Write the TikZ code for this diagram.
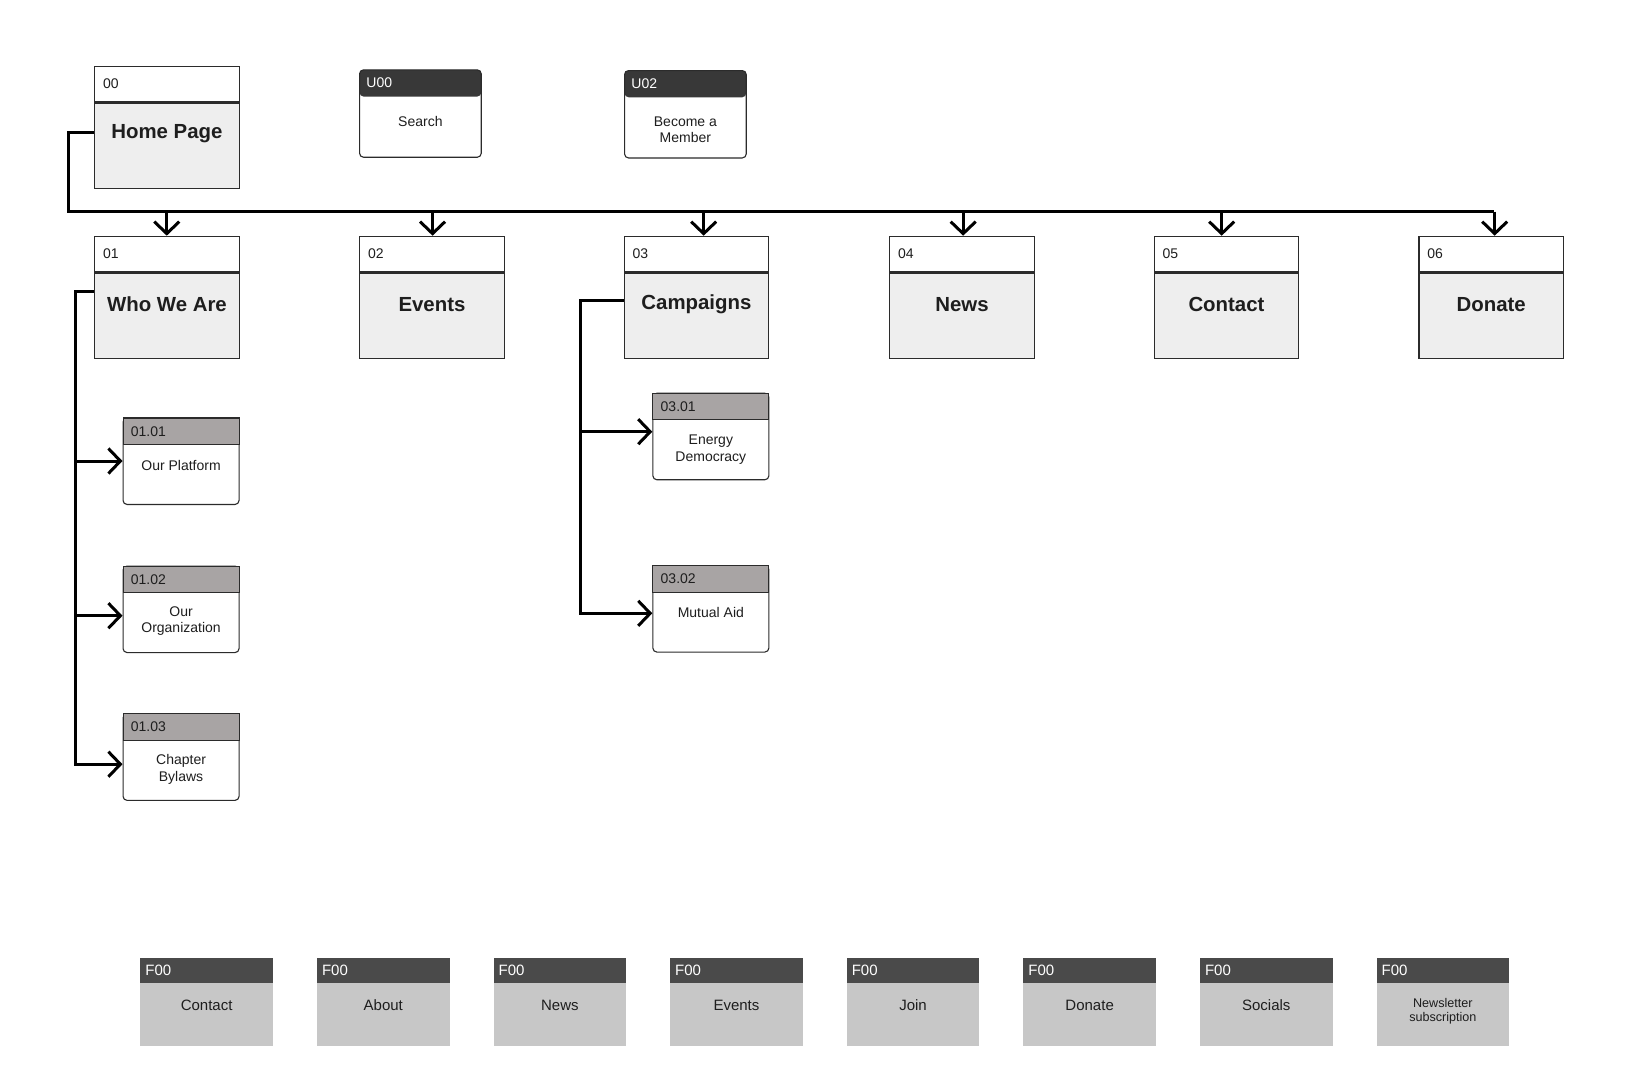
\documentclass[tikz,border=0pt]{standalone}
\usepackage{fontspec}
\setmainfont{Liberation Sans}
\usetikzlibrary{arrows.meta,calc}
\definecolor{bord}{HTML}{2B2B2B}
\definecolor{lbodyc}{HTML}{EEEEEE}
\definecolor{udark}{HTML}{383838}
\definecolor{sgray}{HTML}{A8A4A4}
\definecolor{fdark}{HTML}{4A4A4A}
\definecolor{fbody}{HTML}{C7C7C7}
\definecolor{ink}{HTML}{1E1E1E}
\tikzset{
  lhead/.style={draw=bord, line width=0.7pt, fill=white, minimum width=72.25pt, minimum height=17.5pt, inner sep=0, anchor=north west},
  lbodyst/.style={draw=bord, line width=0.7pt, fill=lbodyc, minimum width=72.25pt, minimum height=42.75pt, inner sep=0, anchor=north west},
  idlabel/.style={font=\fontsize{7}{8}\selectfont, text=ink, inner sep=0, anchor=west},
  wlabel/.style={font=\fontsize{7}{8}\selectfont, text=white, inner sep=0, anchor=west},
  flabel/.style={font=\fontsize{7.5}{8}\selectfont, text=white, inner sep=0, anchor=west},
  titlest/.style={font=\fontsize{10.2}{12}\selectfont\bfseries, text=ink, inner sep=0},
  uboxst/.style={draw=bord, line width=0.55pt, fill=white, rounded corners=2pt, minimum width=60.85pt, minimum height=43.7pt, inner sep=0, anchor=north west,
    path picture={\fill[udark] (path picture bounding box.north west) rectangle ([yshift=-13.35pt]path picture bounding box.north east);}},
  sbody/.style={draw=bord, line width=0.55pt, fill=white, rounded corners=2pt, minimum width=58pt, minimum height=43.25pt, inner sep=0, anchor=north west},
  shead/.style={draw=bord, line width=0.55pt, fill=sgray, minimum width=58pt, minimum height=13.25pt, inner sep=0, anchor=north west},
  ftbody/.style={fill=fbody, minimum width=66.25pt, minimum height=44pt, inner sep=0, anchor=north west},
  fthead/.style={fill=fdark, minimum width=66.25pt, minimum height=12.5pt, inner sep=0, anchor=north west},
  smalltxt/.style={font=\fontsize{7}{8.3}\selectfont, text=ink, align=center, inner sep=0},
  foottxt/.style={font=\fontsize{7.5}{8.3}\selectfont, text=ink, align=center, inner sep=0},
  tinytxt/.style={font=\fontsize{6.3}{7.3}\selectfont, text=ink, align=center, inner sep=0},
  conn/.style={line width=1.5pt, draw=black},
  arr/.style={conn, -{Straight Barb[length=6pt,width=12.5pt]}},
}
\newcommand\levelbox[5]{%
  \node[lhead] (#1h) at (#2,#3) {};
  \node[lbodyst] (#1) at (#1h.south west) {};
  \node[idlabel] (#1id) at ([xshift=4.3pt]#1h.west) {#4};
  \node[titlest] (#1t) at ([yshift=-16pt]#1.north) {#5};
}
\newcommand\utilbox[6]{%
  \node[uboxst] (#1) at (#2,#3) {};
  \node[wlabel] (#1id) at ([xshift=3.5pt,yshift=-6.7pt]#1.north west) {#4};
  \node[smalltxt] (#1t) at ([yshift=#6]#1.north) {#5};
}
\newcommand\subbox[6]{%
  \node[sbody] (#1) at (#2,#3) {};
  \node[shead] (#1h) at (#1.north west) {};
  \node[idlabel] (#1id) at ([xshift=4pt]#1h.west) {#4};
  \node[smalltxt] (#1t) at ([yshift=#6]#1.north) {#5};
}
\newcommand\footbox[5]{%
  \node[ftbody] (#1) at (#2,957.3) {};
  \node[fthead] (#1h) at (#1.north west) {};
  \node[flabel] (#1id) at ([xshift=2.5pt]#1h.west) {F00};
  \node[#5] (#1t) at ([yshift=#4]#1.north) {#3};
}
\begin{document}
\begin{tikzpicture}[x=0.5pt,y=-0.5pt]
\fill[white] (0,0) rectangle (1626,1088);
\useasboundingbox (0,0) rectangle (1626,1088);

% top level
\levelbox{home}{94}{65.7}{00}{Home Page}
\utilbox{u00}{359}{69.3}{U00}{Search}{-26.1pt}
\utilbox{u02}{624}{70}{U02}{Become a\\Member}{-29.9pt}

% level 1
\levelbox{n01}{94}{235.7}{01}{Who We Are}
\levelbox{n02}{359}{235.7}{02}{Events}
\levelbox{n03}{623.5}{235.7}{03}{Campaigns}
\levelbox{n04}{889}{235.7}{04}{News}
\levelbox{n05}{1153.5}{235.7}{05}{Contact}
\levelbox{n06}{1418.3}{235.7}{06}{Donate}

% sub boxes
\subbox{s0101}{122.5}{417.4}{01.01}{Our Platform}{-24pt}
\subbox{s0102}{122.5}{565.5}{01.02}{Our\\Organization}{-27.75pt}
\subbox{s0103}{122.5}{713.3}{01.03}{Chapter\\Bylaws}{-28pt}
\subbox{s0301}{652.3}{392.7}{03.01}{Energy\\Democracy}{-28.5pt}
\subbox{s0302}{652.3}{565}{03.02}{Mutual Aid}{-23.8pt}

% footer
\footbox{f1}{140}{Contact}{-23.85pt}{foottxt}
\footbox{f2}{316.6}{About}{-23.85pt}{foottxt}
\footbox{f3}{493.2}{News}{-23.85pt}{foottxt}
\footbox{f4}{669.8}{Events}{-23.85pt}{foottxt}
\footbox{f5}{846.4}{Join}{-23.85pt}{foottxt}
\footbox{f6}{1023}{Donate}{-23.85pt}{foottxt}
\footbox{f7}{1199.6}{Socials}{-23.85pt}{foottxt}
\footbox{f8}{1376.2}{Newsletter\\subscription}{-27pt}{tinytxt}

% main bus
\coordinate (busL) at (68.3,211.7);
\coordinate (busR) at (1494,211.7);
\draw[conn] ([yshift=-15pt]home.north west) -| (busL) -- (busR);
\foreach \n/\s in {n01/-0.1,n02/0.3,n03/3.6,n04/0.6,n05/-2.4,n06/1.7}{
  \coordinate (\n-a) at ([xshift=\s pt]\n h.north);
  \draw[arr] (\n-a |- busL) -- (\n-a);
}

% 01 branch
\coordinate (v01) at (75.8,0);
\coordinate (a0101) at ([yshift=-21.8pt]s0101.north west);
\coordinate (a0102) at ([yshift=-25.1pt]s0102.north west);
\coordinate (a0103) at ([yshift=-25.45pt]s0103.north west);
\draw[arr] ([yshift=-9.7pt]n01.north west) -| (v01 |- a0103) -- (a0103);
\draw[arr] (v01 |- a0101) -- (a0101);
\draw[arr] (v01 |- a0102) -- (a0102);

% 03 branch
\coordinate (v03) at (580.7,0);
\coordinate (a0301) at ([yshift=-19.5pt]s0301.north west);
\coordinate (a0302) at ([yshift=-24.15pt]s0302.north west);
\draw[arr] ([yshift=-14pt]n03.north west) -| (v03 |- a0302) -- (a0302);
\draw[arr] (v03 |- a0301) -- (a0301);
\end{tikzpicture}
\end{document}
